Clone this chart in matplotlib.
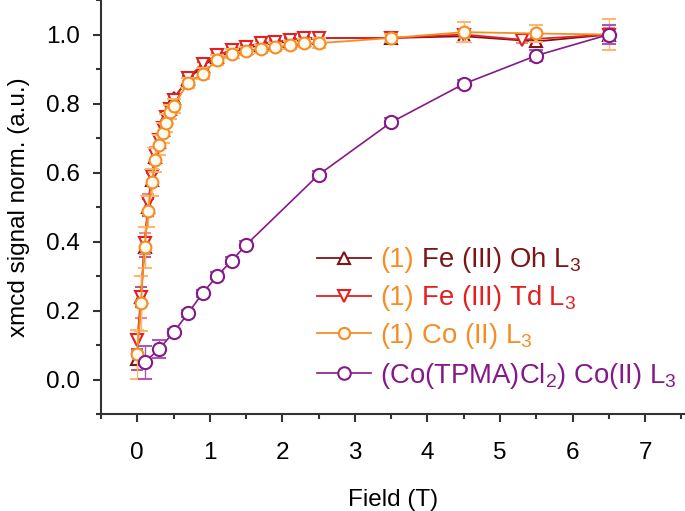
import numpy as np
import matplotlib
matplotlib.use("Agg")
import matplotlib.pyplot as plt
from matplotlib.transforms import IdentityTransform
from matplotlib.ticker import MultipleLocator

plt.rcParams["font.family"] = ["Liberation Sans", "DejaVu Sans"]
plt.rcParams["mathtext.fontset"] = "custom"
plt.rcParams["mathtext.rm"] = "Liberation Sans"
plt.rcParams["mathtext.it"] = "Liberation Sans:italic"

# field values (T)
field = [0, 0.05, 0.1, 0.15, 0.2, 0.25, 0.3, 0.35, 0.4, 0.45, 0.5, 0.7, 0.9,
         1.1, 1.3, 1.5, 1.7, 1.9, 2.1, 2.3, 2.5, 3.5, 4.5, 5.5, 6.5]
field_td = [0, 0.05, 0.1, 0.15, 0.2, 0.25, 0.3, 0.35, 0.4, 0.45, 0.5, 0.7, 0.9,
            1.1, 1.3, 1.5, 1.7, 1.9, 2.1, 2.3, 2.5, 3.5, 4.5, 5.3, 6.5]
field_tpma = [0.1, 0.3, 0.5, 0.7, 0.9, 1.1, 1.3, 1.5, 2.5, 3.5, 4.5, 5.5, 6.5]

fe_oh = [0.06, 0.24, 0.385, 0.50, 0.58, 0.645, 0.69, 0.725, 0.76, 0.785, 0.815,
         0.87, 0.91, 0.935, 0.95, 0.96, 0.97, 0.975, 0.98, 0.985, 0.99,
         0.99, 0.995, 0.98, 1.0]
fe_oh_err = [0.03, 0.03, 0.03, 0.025, 0.02, 0.02, 0.015, 0.015, 0.015, 0.01, 0.01,
             0.01, 0.01, 0.01, 0.01, 0.01, 0.01, 0.01, 0.01, 0.01, 0.01,
             0.01, 0.01, 0.01, 0.02]

fe_td = [0.115, 0.24, 0.395, 0.514, 0.59, 0.655, 0.695, 0.73, 0.76, 0.785, 0.81,
         0.875, 0.915, 0.94, 0.955, 0.965, 0.975, 0.978, 0.985, 0.99, 0.99,
         0.99, 1.0, 0.985, 1.0]
fe_td_err = [0.03, 0.06, 0.03, 0.025, 0.02, 0.02, 0.015, 0.015, 0.015, 0.01, 0.01,
             0.01, 0.01, 0.01, 0.01, 0.01, 0.01, 0.01, 0.01, 0.01, 0.01,
             0.01, 0.01, 0.01, 0.02]

co = [0.074, 0.222, 0.384, 0.488, 0.572, 0.636, 0.68, 0.715, 0.744, 0.775, 0.794,
      0.86, 0.887, 0.926, 0.945, 0.952, 0.959, 0.963, 0.969, 0.975, 0.975,
      0.99, 1.007, 1.003, 1.0]
co_err = [0.07, 0.08, 0.06, 0.045, 0.04, 0.035, 0.03, 0.03, 0.025, 0.02, 0.02,
          0.015, 0.015, 0.015, 0.012, 0.012, 0.012, 0.012, 0.012, 0.012, 0.015,
          0.012, 0.03, 0.025, 0.045]

tpma = [0.051, 0.089, 0.138, 0.193, 0.251, 0.301, 0.345, 0.391, 0.594, 0.746,
        0.857, 0.939, 1.0]
tpma_err = [0.047, 0.027, 0.01, 0.01, 0.01, 0.01, 0.01, 0.01, 0.012, 0.012,
            0.012, 0.015, 0.027]

# legend: orange "(1)" prefix + coloured rest
prefix = "(1)"
label_rest = [" Fe (III) Oh L$_3$", " Fe (III) Td L$_3$", " Co (II) L$_3$"]
label_tpma = "(Co(TPMA)Cl$_2$) Co(II) L$_3$"

c_oh = "#7d1416"
c_td = "#e3201f"
c_co = "#f68d24"
c_pu = "#86198a"

fig = plt.figure(figsize=(6.85, 5.11), dpi=100)
ax = fig.add_axes([0.1475, 0.189, 0.8525, 0.811])

h1 = ax.errorbar(field, fe_oh, yerr=fe_oh_err, color=c_oh, marker="^", ms=9,
                 mfc="white", mew=1.5, lw=1.3, ecolor="#b0607a", elinewidth=1,
                 capsize=4, capthick=1, zorder=2)
h2 = ax.errorbar(field_td, fe_td, yerr=fe_td_err, color=c_td, marker="v", ms=9,
                 mfc="white", mew=1.5, lw=1.3, ecolor="#f08a8a", elinewidth=1,
                 capsize=4, capthick=1, zorder=3)
h3 = ax.errorbar(field, co, yerr=co_err, color=c_co, marker="o", ms=8.5,
                 mfc="#fffaf0", mew=1.5, lw=1.3, ecolor="#fbb870", elinewidth=1,
                 capsize=5, capthick=1, zorder=4)
h4 = ax.errorbar(field_tpma, tpma, yerr=tpma_err, color=c_pu, marker="o", ms=9.5,
                 mfc="white", mew=1.5, lw=1.2, ecolor="#a85cb0", elinewidth=1,
                 capsize=5, capthick=1, zorder=5)

ax.set_xlim(-0.5, 7.55)
ax.set_ylim(-0.1, 1.1)
ax.xaxis.set_major_locator(MultipleLocator(1))
ax.xaxis.set_minor_locator(MultipleLocator(0.5))
ax.yaxis.set_minor_locator(MultipleLocator(0.1))
ax.set_yticks(np.arange(0, 1.01, 0.2))
ax.set_yticklabels(["0.0", "0.2", "0.4", "0.6", "0.8", "1.0"])

for s in ["top", "right"]:
    ax.spines[s].set_visible(False)
for s in ["left", "bottom"]:
    ax.spines[s].set_linewidth(1.5)
    ax.spines[s].set_color("#333333")

ax.tick_params(which="major", direction="out", length=6, width=1.5,
               color="#333333", labelsize=17.5)
ax.tick_params(which="minor", direction="out", length=3.5, width=1.5,
               color="#333333")
ax.tick_params(axis="x", which="major", pad=14)
ax.tick_params(axis="y", which="major", pad=9)

ax.set_xlabel("Field (T)", fontsize=17.5, labelpad=18)
ax.set_ylabel("xmcd signal norm. (a.u.)", fontsize=17.5, labelpad=12)

leg = ax.legend([h1[0], h2[0], h3[0], h4[0]],
                [prefix, prefix, prefix, label_tpma],
                loc="upper left", bbox_to_anchor=(0.37, 0.403), frameon=False,
                fontsize=19.8, handlelength=1.96, handletextpad=0.33,
                labelspacing=0.43, markerscale=0.95,
                borderpad=0, borderaxespad=0)
texts = leg.get_texts()
for t in texts[:3]:
    t.set_color(c_co)
texts[3].set_color(c_pu)

# put the rest of each label right after the orange "(1)"
fig.canvas.draw()
renderer = fig.canvas.get_renderer()
for t, rest, c in zip(texts[:3], label_rest, [c_oh, c_td, c_co]):
    bb = t.get_window_extent(renderer)
    x0, y0 = t.get_transform().transform(t.get_position())
    fig.text(bb.x1, y0, rest, transform=IdentityTransform(), ha="left",
             va="baseline", fontsize=19.8, color=c)

fig.savefig("out.png", dpi=100)
